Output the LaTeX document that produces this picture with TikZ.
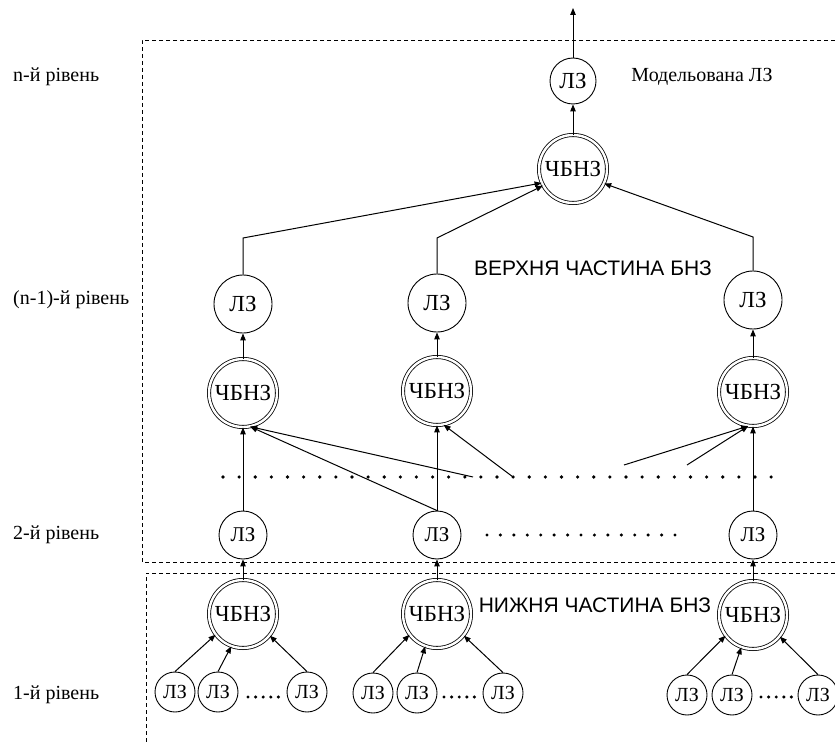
\documentclass[tikz,border=0pt]{standalone}
\usepackage{fontspec}
\setmainfont{Liberation Serif}
\setsansfont{Liberation Sans}
\usetikzlibrary{arrows.meta}
\tikzset{>={Triangle[length=7pt,width=5.5pt]}}
\tikzset{%
    lz/.style={circle, draw, line width=0.9pt, inner sep=0pt, minimum size=#1,
        font=\fontsize{23}{25}\selectfont},
    lzsmall/.style={lz=#1, font=\fontsize{20}{22}\selectfont},
    chbnz/.style={circle, draw, double, double distance=2.4pt, line width=0.8pt,
        inner sep=0pt, minimum size=68pt, font=\fontsize{23}{25}\selectfont},
    rivlabel/.style={anchor=west, inner sep=0pt, font=\fontsize{20}{22}\selectfont},
    partlabel/.style={inner sep=0pt, font=\sffamily\fontsize{21}{24}\selectfont},
    link/.style={->, line width=1pt},
    dashbox/.style={line width=0.8pt, dash pattern=on 4pt off 3pt}
}

\begin{document}
\begin{tikzpicture}[x=1pt,y=-1pt]
\useasboundingbox (0,0) rectangle (835,743);

% dashed frames of the two parts
\draw[dashbox] (835,40) -- (142,40) -- (142,562) -- (835,562);
\draw[dashbox] (835,573) -- (146,573) -- (146,743);

% level names
\node[rivlabel] (levN) at (13,77) {n-й рівень};
\node[rivlabel] (levNm) at (13,300) {(n-1)-й рівень};
\node[rivlabel] (levTwo) at (13,535) {2-й рівень};
\node[rivlabel] (levOne) at (13,695) {1-й рівень};

\node[partlabel] (upper) at (593,268) {ВЕРХНЯ ЧАСТИНА БНЗ};
\node[partlabel] (lower) at (595,605) {НИЖНЯ ЧАСТИНА БНЗ};

% n-th level
\node[lz=46pt] (lzTop) at (573,81) {ЛЗ};
\node[chbnz] (chTop) at (573,169) {ЧБНЗ};
\coordinate (out) at (573,8);
\node[inner sep=0pt, font=\fontsize{20}{22}\selectfont] (model) at (702,77) {Модельована ЛЗ};

\draw[link] (chTop) -- (lzTop);
\draw[link] (lzTop) -- (out);

% (n-1)-th level
\node[lz=58pt] (lzA) at (243,304) {ЛЗ};
\node[lz=58pt] (lzB) at (437,303) {ЛЗ};
\node[lz=58pt] (lzC) at (753,300) {ЛЗ};

\node[chbnz] (chA) at (243,393) {ЧБНЗ};
\node[chbnz] (chB) at (437,391) {ЧБНЗ};
\node[chbnz] (chC) at (753,392) {ЧБНЗ};

\coordinate (bendA) at (243,238);
\coordinate (bendB) at (437,238);
\coordinate (bendC) at (753,237);

\draw[link] (lzA.north) -- (bendA) -- (chTop.204);
\draw[link] (lzB.north) -- (bendB) -- (chTop.209);
\draw[link] (lzC.north) -- (bendC) -- (chTop.335);

\draw[link] (chA) -- (lzA);
\draw[link] (chB) -- (lzB);
\draw[link] (chC) -- (lzC);

% row of dots between the levels
\foreach \i in {0,...,34}
    \fill (223+16.12*\i,477) circle (1.8pt);

% 2-nd level
\node[lz=48pt, font=\fontsize{21}{23}\selectfont] (lzTwoA) at (243,535) {ЛЗ};
\node[lz=48pt, font=\fontsize{21}{23}\selectfont] (lzTwoB) at (437,535) {ЛЗ};
\node[lz=48pt, font=\fontsize{21}{23}\selectfont] (lzTwoC) at (753,535) {ЛЗ};

\foreach \i in {0,...,14}
    \fill (487+13.43*\i,535) circle (1.7pt);

\coordinate (dotA) at (473,477);
\coordinate (dotB) at (513,477);
\coordinate (dotC) at (624,465);
\coordinate (dotD) at (687,465);

\draw[link] (lzTwoA) -- (chA);
\draw[link] (lzTwoB) -- (chB);
\draw[link] (lzTwoC) -- (chC);
\draw[link] (lzTwoB.north) -- (chA.-78);
\draw[link] (dotA) -- (chA.-78);
\draw[link] (dotB) -- (chB.-79);
\draw[link] (dotC) -- (chC.-98);
\draw[link] (dotD) -- (chC.-98);

% lower part
\node[chbnz] (chLowA) at (243,614) {ЧБНЗ};
\node[chbnz] (chLowB) at (437,614) {ЧБНЗ};
\node[chbnz] (chLowC) at (753,615) {ЧБНЗ};

\draw[link] (chLowA) -- (lzTwoA);
\draw[link] (chLowB) -- (lzTwoB);
\draw[link] (chLowC) -- (lzTwoC);

% 1-st level
\node[lzsmall=40pt] (lzOneA) at (175,692) {ЛЗ};
\node[lzsmall=40pt] (lzOneB) at (218,692) {ЛЗ};
\node[lzsmall=40pt] (lzOneC) at (307,692) {ЛЗ};
\node[lzsmall=40pt] (lzOneD) at (373,693) {ЛЗ};
\node[lzsmall=40pt] (lzOneE) at (417,693) {ЛЗ};
\node[lzsmall=40pt] (lzOneF) at (503,693) {ЛЗ};
\node[lzsmall=40pt] (lzOneG) at (687,695) {ЛЗ};
\node[lzsmall=40pt] (lzOneH) at (732,695) {ЛЗ};
\node[lzsmall=40pt] (lzOneI) at (818,695) {ЛЗ};

\foreach \x in {248,444,761}
    \foreach \i in {0,...,4}
        \fill (\x+7.6*\i,697) circle (1.7pt);

\draw[link] (lzOneA.north) -- (chLowA.217);
\draw[link] (lzOneB.north) -- (chLowA.250);
\draw[link] (lzOneC.north) -- (chLowA.321);
\draw[link] (lzOneD.north) -- (chLowB.217);
\draw[link] (lzOneE.north) -- (chLowB.250);
\draw[link] (lzOneF.north) -- (chLowB.321);
\draw[link] (lzOneG.north) -- (chLowC.217);
\draw[link] (lzOneH.north) -- (chLowC.250);
\draw[link] (lzOneI.north) -- (chLowC.321);
\end{tikzpicture}
\end{document}
